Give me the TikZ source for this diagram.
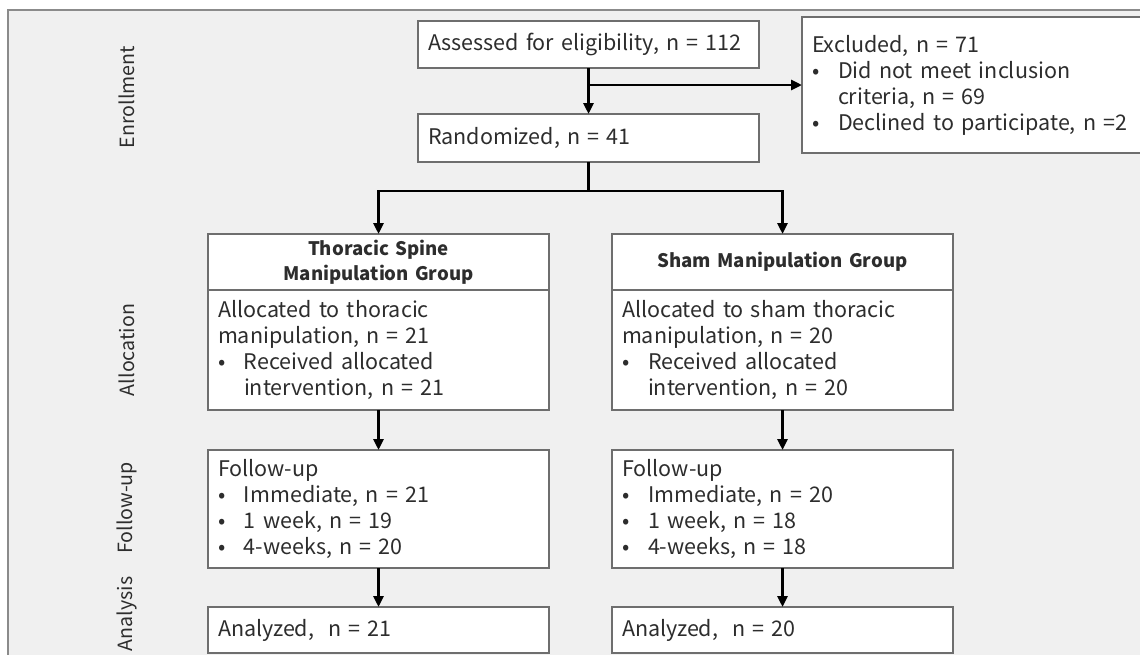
\documentclass[tikz,border=0pt]{standalone}
\usepackage{fontspec}
\setmainfont{Noto Sans CJK JP}
\usetikzlibrary{positioning,arrows.meta}

\definecolor{bggray}{RGB}{240,240,240}
\definecolor{boxgray}{RGB}{110,110,110}
\definecolor{txtgray}{RGB}{45,45,45}

\newcommand{\itm}{\makebox[26pt][l]{\textbullet}}
\newcommand{\hang}{\hspace*{26pt}}

\tikzset{
  box/.style={draw=boxgray, line width=1.2pt, fill=white, anchor=north west, text=txtgray,
    align=left, text width=321pt, inner xsep=10pt, inner ysep=0pt, outer sep=0pt,
    font=\fontsize{21.5}{26}\selectfont},
  headbox/.style={box, align=center, font=\fontsize{18.6}{25}\selectfont\bfseries},
  stage/.style={rotate=90, text=txtgray, font=\fontsize{19.6}{22}\selectfont},
  arr/.style={-{Triangle[length=11pt,width=10pt]}, line width=2.8pt},
  stem/.style={line width=2.8pt}
}

\begin{document}
\begin{tikzpicture}[x=1pt,y=-1pt]
  \useasboundingbox (0,0) rectangle (1140,654);
  \draw[draw=boxgray!80, fill=bggray, line width=1.2pt] (8,10) rectangle (1160,670);

  % stage labels
  \node[stage] (enrLbl) at (127,97) {Enrollment};
  \node[stage] (allLbl) at (127,350) {Allocation};
  \node[stage] (folLbl) at (127,508) {Follow-up};
  \node[stage] (anaLbl) at (127,614) {Analysis};

  % enrollment
  \node[box, minimum height=47pt] (assess) at (418,21) {Assessed for eligibility, n = 112};
  \node[box, minimum height=48pt] (rand) at (418,114) {Randomized, n = 41};
  \node[box, text width=330pt, minimum height=136pt] (excl) at (802,17)
    {Excluded, n = 71\\ \itm Did not meet inclusion\\ \hang criteria, n = 69\\ \itm Declined to participate, n =2};

  % allocation
  \node[headbox, minimum height=56pt] (thoHead) at (208,234) {Thoracic Spine\\ Manipulation Group};
  \node[box, minimum height=120pt, below=0pt of thoHead] (thoBody)
    {Allocated to thoracic\\ manipulation, n = 21\\ \itm Received allocated\\ \hang intervention, n = 21};
  \node[headbox, minimum height=56pt] (shamHead) at (612,234) {Sham Manipulation Group};
  \node[box, minimum height=120pt, below=0pt of shamHead] (shamBody)
    {Allocated to sham thoracic\\ manipulation, n = 20\\ \itm Received allocated\\ \hang intervention, n = 20};

  % follow-up
  \node[box, minimum height=118pt] (thoFol) at (208,450)
    {Follow-up\\ \itm Immediate, n = 21\\ \itm 1 week, n = 19\\ \itm 4-weeks, n = 20};
  \node[box, minimum height=118pt] (shamFol) at (612,450)
    {Follow-up\\ \itm Immediate, n = 20\\ \itm 1 week, n = 18\\ \itm 4-weeks, n = 18};

  % analysis
  \node[box, minimum height=46pt] (thoAna) at (208,607) {Analyzed,\ \ n = 21};
  \node[box, minimum height=46pt] (shamAna) at (612,607) {Analyzed,\ \ n = 20};

  % connectors
  \draw[arr] (assess.south) -- (rand.north);
  \coordinate (split) at (assess.south |- excl.west);
  \draw[arr] (split) -- (excl.west);
  \draw[stem] (rand.south) -- ++(0,29) coordinate (fork);
  \draw[arr] (fork) -| (thoHead.north);
  \draw[arr] (fork) -| (shamHead.north);
  \draw[arr] (thoBody.south) -- (thoFol.north);
  \draw[arr] (shamBody.south) -- (shamFol.north);
  \draw[arr] (thoFol.south) -- (thoAna.north);
  \draw[arr] (shamFol.south) -- (shamAna.north);
\end{tikzpicture}
\end{document}
